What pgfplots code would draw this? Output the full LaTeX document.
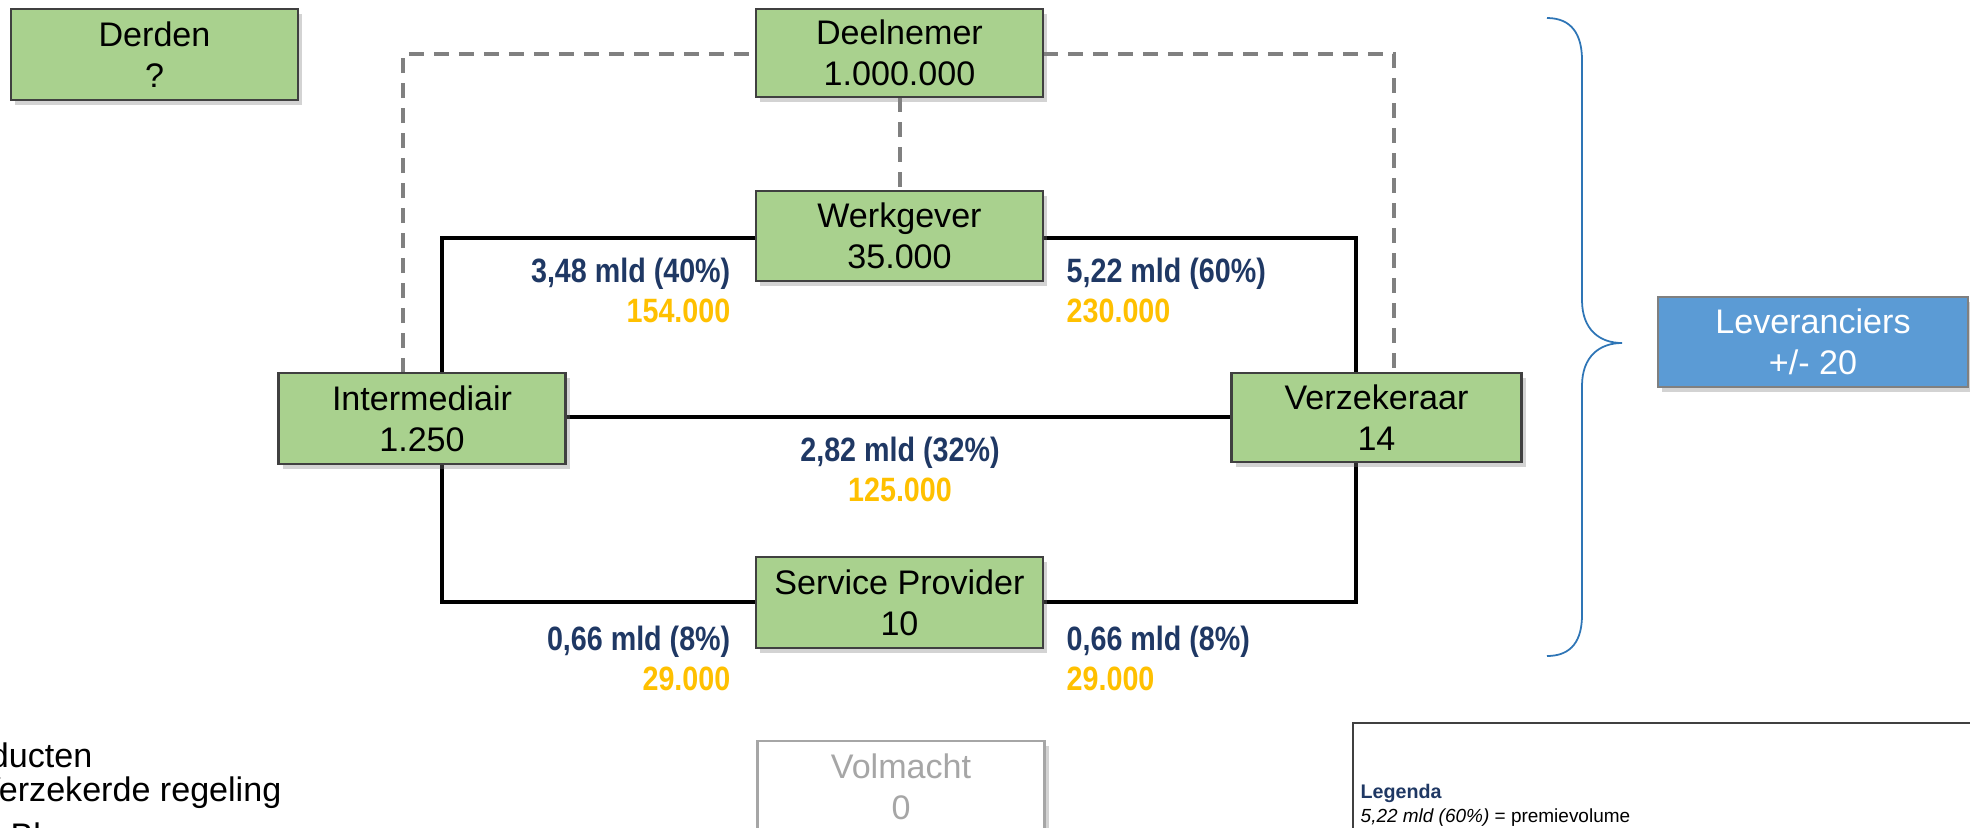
\documentclass[border=0pt]{standalone}
\usepackage{fontspec}
\setmainfont{Liberation Sans}
\newfontfamily\nb{Liberation Sans}[FakeStretch=0.85]
\usepackage{pgfplots}
\pgfplotsset{compat=1.18}
\usetikzlibrary{shadows}
\definecolor{boxgreen}{HTML}{A9D18E}
\definecolor{boxborder}{HTML}{404040}
\definecolor{dashgray}{HTML}{808080}
\definecolor{lblblue}{HTML}{1F3864}
\definecolor{gold}{HTML}{FFC000}
\definecolor{levblue}{HTML}{5B9BD5}
\definecolor{bracecol}{HTML}{2E75B6}
\definecolor{lightgray}{HTML}{A6A6A6}
\tikzset{
  dashline/.style={color=dashgray, line width=1.1pt, dash pattern=on 0.15cm off 0.10cm},
  solidline/.style={color=black, line width=1.1pt},
  box/.style={draw=boxborder, fill=boxgreen, line width=0.6pt, align=center, inner sep=0pt,
    font=\fontsize{9.7}{11.7}\selectfont, text=black,
    drop shadow={shadow xshift=0.04cm, shadow yshift=-0.05cm, opacity=0.35}},
  lbl/.style={inner sep=0pt, text=lblblue, font=\fontsize{9.6}{11}\selectfont\nb\bfseries},
  num/.style={inner sep=0pt, text=gold, font=\fontsize{9.6}{11}\selectfont\nb\bfseries},
}
\begin{document}
\begin{tikzpicture}
\begin{axis}[name=ax, width=19.70cm, height=8.27cm, scale only axis,
  xmin=0, xmax=1970, ymin=0, ymax=827, y dir=reverse, hide axis, no markers, clip=true]
% connection lines
\addplot[dashline] coordinates {(403,373) (403,54) (756,54)};
\addplot[dashline] coordinates {(1043,54) (1394,54) (1394,373)};
\addplot[dashline] coordinates {(900,97) (900,191)};
\addplot[solidline] coordinates {(442,373) (442,238) (756,238)};
\addplot[solidline] coordinates {(1043,238) (1356,238) (1356,373)};
\addplot[solidline] coordinates {(565,417) (1231,417)};
\addplot[solidline] coordinates {(442,464) (442,602) (756,602)};
\addplot[solidline] coordinates {(1043,602) (1356,602) (1356,462)};
% boxes
\node[box, minimum width=2.87cm, minimum height=0.91cm] at (axis cs:154.5,54.5) {Derden\\?};
\node[box, minimum width=2.87cm, minimum height=0.88cm] at (axis cs:899.5,53) {Deelnemer\\1.000.000};
\node[box, minimum width=2.87cm, minimum height=0.90cm] at (axis cs:899.5,236) {Werkgever\\35.000};
\node[box, minimum width=2.87cm, minimum height=0.91cm] at (axis cs:422,418.5) {Intermediair\\1.250};
\node[box, minimum width=2.90cm, minimum height=0.89cm] at (axis cs:1376.5,417.5) {Verzekeraar\\14};
\node[box, minimum width=2.87cm, minimum height=0.91cm] at (axis cs:899.5,602.5) {Service Provider\\10};
\node[box, fill=white, draw=lightgray, text=lightgray, minimum width=2.87cm, minimum height=0.91cm] at (axis cs:901,786.5) {Volmacht\\0};
\node[box, fill=levblue, draw=dashgray, text=white, minimum width=3.10cm, minimum height=0.90cm] at (axis cs:1813,342) {Leveranciers\\+/- 20};
% labels
\node[lbl, anchor=base east] at (axis cs:731,282) {3,48 mld (40\%)};
\node[num, anchor=base east] at (axis cs:731,322) {154.000};
\node[lbl, anchor=base west] at (axis cs:1066,282) {5,22 mld (60\%)};
\node[num, anchor=base west] at (axis cs:1066,322) {230.000};
\node[lbl, anchor=base] at (axis cs:900,461) {2,82 mld (32\%)};
\node[num, anchor=base] at (axis cs:900,501) {125.000};
\node[lbl, anchor=base east] at (axis cs:731,650) {0,66 mld (8\%)};
\node[num, anchor=base east] at (axis cs:731,690) {29.000};
\node[lbl, anchor=base west] at (axis cs:1066,650) {0,66 mld (8\%)};
\node[num, anchor=base west] at (axis cs:1066,690) {29.000};
% brace
\draw[color=bracecol, line width=0.5pt] (axis cs:1547,18) .. controls (axis cs:1572,18) and (axis cs:1582,35) .. (axis cs:1582,60) -- (axis cs:1582,300) .. controls (axis cs:1582,330) and (axis cs:1600,343) .. (axis cs:1622,343) .. controls (axis cs:1600,343) and (axis cs:1582,356) .. (axis cs:1582,386) -- (axis cs:1582,615) .. controls (axis cs:1582,640) and (axis cs:1572,656) .. (axis cs:1547,656);
% legend box
\draw[color=boxborder, line width=0.6pt] (axis cs:1353,723) rectangle (axis cs:2100,1000);
\node[anchor=base west, inner sep=0pt, text=lblblue, font=\fontsize{5.6}{6.5}\selectfont\bfseries] at (axis cs:1360,798) {Legenda};
\node[anchor=base west, inner sep=0pt, font=\fontsize{5.4}{6.5}\selectfont] at (axis cs:1360,822) {\textit{5,22 mld (60\%)} = premievolume};
% bottom-left list
\node[anchor=base east, inner sep=0pt, font=\fontsize{9.7}{11.7}\selectfont] at (axis cs:93,767) {Producten};
\node[anchor=base east, inner sep=0pt, font=\fontsize{9.7}{11.7}\selectfont] at (axis cs:282,801) {Verzekerde regeling};
\node[anchor=base west, inner sep=0pt, font=\fontsize{9.7}{11.7}\selectfont] at (axis cs:10,847) {Bl};
\end{axis}
\pgfresetboundingbox
\path[use as bounding box] (ax.south west) rectangle (ax.north east);
\end{tikzpicture}
\end{document}
